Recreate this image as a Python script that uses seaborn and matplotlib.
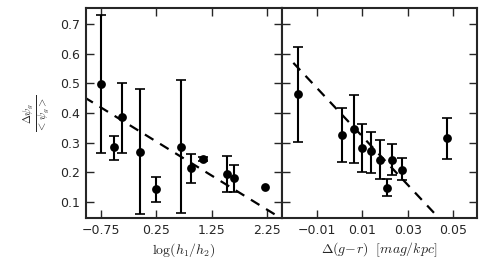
import numpy as np
import pandas as pd
import matplotlib
matplotlib.use("Agg")
import matplotlib.pyplot as plt
import seaborn as sns

# --- DATA ---
# left panel: scale-length ratio (last point has no error bar)
logh = [-0.75, -0.52, -0.37, -0.05, 0.25, 0.69, 0.87, 1.09, 1.52, 1.66, 2.22]
dpsi_left = [0.498, 0.286, 0.387, 0.269, 0.144, 0.286, 0.215, 0.245, 0.195, 0.180, 0.152]
err_lo_left = [0.232, 0.044, 0.121, 0.209, 0.044, 0.222, 0.050, 0.006, 0.060, 0.045, np.nan]
err_hi_left = [0.232, 0.037, 0.113, 0.211, 0.041, 0.224, 0.047, 0.007, 0.061, 0.045, np.nan]
fit_left_x = [-1.05, 2.60]
fit_left_y = [0.453, 0.034]

# right panel: colour gradient
dgr = [-0.0184, 0.001, 0.0063, 0.0098, 0.0137, 0.0177, 0.0208, 0.023, 0.0274, 0.0471]
dpsi_right = [0.464, 0.326, 0.346, 0.283, 0.272, 0.242, 0.148, 0.242, 0.208, 0.316]
err_lo_right = [0.161, 0.091, 0.114, 0.081, 0.074, 0.064, 0.027, 0.050, 0.033, 0.071]
err_hi_right = [0.159, 0.091, 0.114, 0.080, 0.064, 0.068, 0.030, 0.054, 0.041, 0.068]
fit_right_x = [-0.0204, 0.047]
fit_right_y = [0.569, 0.019]

left_xticks = [-0.75, 0.25, 1.25, 2.25]
right_xticks = [-0.01, 0.01, 0.03, 0.05]
yticks = [0.1, 0.2, 0.3, 0.4, 0.5, 0.6, 0.7]


def main():
    sns.set_style("ticks")
    plt.rcParams["font.family"] = ["DejaVu Sans"]
    plt.rcParams["mathtext.fontset"] = "cm"
    plt.rcParams["font.size"] = 9

    fig = plt.figure(figsize=(4.9, 2.8), dpi=100)
    ax1 = fig.add_axes([86 / 490, 1 - 218 / 280, 196 / 490, 210 / 280])
    ax2 = fig.add_axes([282 / 490, 1 - 218 / 280, 195 / 490, 210 / 280])

    panels = [
        (ax1, logh, dpsi_left, err_lo_left, err_hi_left, fit_left_x, fit_left_y,
         (-1.02, 2.52), left_xticks, r"$\log(h_1/h_2)$"),
        (ax2, dgr, dpsi_right, err_lo_right, err_hi_right, fit_right_x, fit_right_y,
         (-0.0254, 0.0605), right_xticks, r"$\Delta(g\!-\!r)\ \ [mag/kpc]$"),
    ]

    for ax, x, y, lo, hi, fx, fy, xlim, xt, xlab in panels:
        df = pd.DataFrame({"x": x, "y": y})
        ax.errorbar(x, y, yerr=[lo, hi], fmt="none", ecolor="black",
                    elinewidth=1.5, capsize=3.3, capthick=1.2, zorder=2)
        sns.scatterplot(data=df, x="x", y="y", ax=ax, color="black", s=40,
                        edgecolor="black", linewidth=0, zorder=3)
        fit = pd.DataFrame({"x": fx, "y": fy})
        sns.lineplot(data=fit, x="x", y="y", ax=ax, color="black", lw=1.6,
                     dashes=False, zorder=1)
        ax.lines[-1].set_dashes((4.5, 3.5))

        ax.set_xlim(*xlim)
        ax.set_ylim(0.046, 0.754)
        ax.set_xticks(xt)
        ax.set_xticklabels([f"{t:g}".replace("-", "\u2212") for t in xt])
        ax.set_yticks(yticks)
        ax.set_xlabel(xlab, fontsize=10, labelpad=3)
        ax.tick_params(direction="in", length=5.5, width=1, top=True, right=True,
                       labelsize=9, pad=4)
        for sp in ax.spines.values():
            sp.set_linewidth(1.5)
            sp.set_visible(True)

    ax1.set_ylabel(r"$\frac{\Delta\psi_g}{<\psi_g>}$", fontsize=11, labelpad=6)
    ax2.set_ylabel("")
    ax2.set_yticklabels([])

    fig.savefig("out.png", dpi=100)


if __name__ == "__main__":
    main()
